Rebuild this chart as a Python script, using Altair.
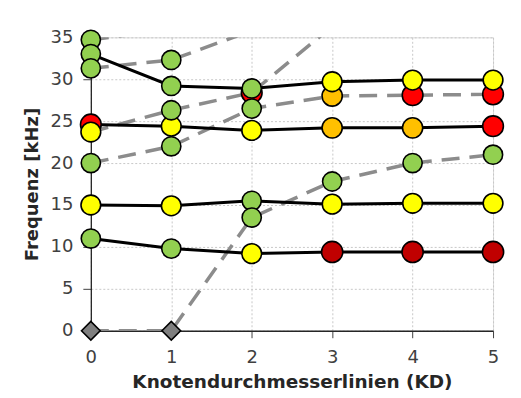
import altair as alt
import pandas as pd

# ---- data ----
KD = [0, 1, 2, 3, 4, 5]

# solid black mode lines
solid_A = [11.0, 9.8, 9.2, 9.4, 9.4, 9.4]
solid_B = [15.0, 14.9, 15.5, 15.1, 15.2, 15.2]
solid_C = [24.6, 24.4, 23.9, 24.2, 24.2, 24.4]
solid_D = [33.0, 29.2, 28.9, 29.7, 29.9, 29.9]

# dashed grey lines (x, y); parts above 35 are clipped
dash_E_x = [0, 1]
dash_E_y = [34.7, 36.0]
dash_F_x = [0, 1, 2]
dash_F_y = [31.3, 32.3, 35.8]
dash_G_x = [0, 1, 2, 3]
dash_G_y = [23.7, 26.3, 28.4, 36.3]
dash_H_x = [0, 1, 2, 3, 4, 5]
dash_H_y = [20.0, 22.0, 26.5, 28.0, 28.1, 28.2]
dash_I_x = [0, 1, 2, 3, 4, 5]
dash_I_y = [0.0, 0.0, 13.5, 17.8, 20.0, 21.0]

# markers
pt_x = [0, 0, 0, 0, 0, 0, 0, 0, 0,
        1, 1, 1, 1, 1, 1, 1, 1,
        2, 2, 2, 2, 2, 2, 2,
        3, 3, 3, 3, 3, 3,
        4, 4, 4, 4, 4, 4,
        5, 5, 5, 5, 5, 5]
pt_y = [34.7, 33.0, 31.3, 24.6, 23.7, 20.0, 15.0, 11.0, 0.0,
        32.3, 29.2, 26.3, 24.4, 22.0, 14.9, 9.8, 0.0,
        28.9, 28.4, 26.5, 23.9, 15.5, 13.5, 9.2,
        29.7, 28.0, 24.2, 17.8, 15.1, 9.4,
        29.9, 28.1, 24.2, 20.0, 15.2, 9.4,
        29.9, 28.2, 24.4, 21.0, 15.2, 9.4]
pt_kind = ["green", "green", "green", "red", "yellow", "green", "yellow", "green", "grey",
           "green", "green", "green", "yellow", "green", "yellow", "green", "grey",
           "green", "red", "green", "yellow", "green", "green", "yellow",
           "yellow", "orange", "orange", "green", "yellow", "darkred",
           "yellow", "red", "orange", "green", "yellow", "darkred",
           "yellow", "red", "red", "green", "yellow", "darkred"]

kinds = ["darkred", "red", "orange", "yellow", "green", "grey"]
kind_colors = ["#C00000", "#FF0000", "#FFC000", "#FFFF00", "#92D050", "#7F7F7F"]
kind_sizes = [450, 350, 310, 210, 170, 110]
kind_shapes = ["circle", "circle", "circle", "circle", "circle", "diamond"]
kind_rank = {k: i for i, k in enumerate(kinds)}

# ---- tables ----
solid_rows = []
for name, ys in [("A", solid_A), ("B", solid_B), ("C", solid_C), ("D", solid_D)]:
    for x, y in zip(KD, ys):
        solid_rows.append({"series": name, "x": x, "y": y})
solid_df = pd.DataFrame(solid_rows)

dash_rows = []
for name, xs, ys in [("E", dash_E_x, dash_E_y), ("F", dash_F_x, dash_F_y),
                     ("G", dash_G_x, dash_G_y), ("H", dash_H_x, dash_H_y),
                     ("I", dash_I_x, dash_I_y)]:
    for x, y in zip(xs, ys):
        dash_rows.append({"series": name, "x": x, "y": y})
dash_df = pd.DataFrame(dash_rows)

pts_df = pd.DataFrame({"x": pt_x, "y": pt_y, "kind": pt_kind})
pts_df["rank"] = pts_df["kind"].map(kind_rank)
pts_df = pts_df.sort_values("rank", kind="stable").reset_index(drop=True)

FONT = "DejaVu Sans"

x_enc = alt.X("x:Q",
              scale=alt.Scale(domain=[0, 5], nice=False, zero=False),
              axis=alt.Axis(values=KD, format="d", title="Knotendurchmesserlinien (KD)",
                            grid=True, gridDash=[2, 2], gridColor="#c8c8c8", gridWidth=1,
                            domainColor="#262626", domainWidth=1.3,
                            tickColor="#404040", tickSize=7, tickWidth=1,
                            labelFontSize=18, labelColor="#404040", labelPadding=11,
                            labelFlush=False,
                            titleFontSize=18.5, titleFontWeight="bold", titleColor="#262626",
                            titlePadding=6, labelFont=FONT, titleFont=FONT))
y_enc = alt.Y("y:Q",
              scale=alt.Scale(domain=[0, 35], nice=False, zero=True),
              axis=alt.Axis(values=[0, 5, 10, 15, 20, 25, 30, 35], title="Frequenz [kHz]",
                            grid=True, gridDash=[2, 2], gridColor="#c8c8c8", gridWidth=1,
                            domainColor="#262626", domainWidth=1.3,
                            tickColor="#404040", tickSize=8, tickWidth=1,
                            labelFontSize=18, labelColor="#404040", labelPadding=10,
                            labelFlush=False,
                            titleFontSize=18, titleFontWeight="bold", titleColor="#262626",
                            titlePadding=9, labelFont=FONT, titleFont=FONT))

dashed = alt.Chart(dash_df).mark_line(
    clip=True, color="#8C8C8C", strokeWidth=3.5, strokeDash=[18, 10]
).encode(x=x_enc, y=y_enc, detail="series:N", order="x:Q")

solid = alt.Chart(solid_df).mark_line(
    clip=True, color="#000000", strokeWidth=3
).encode(x="x:Q", y="y:Q", detail="series:N", order="x:Q")

points = alt.Chart(pts_df).mark_point(
    filled=True, stroke="#000000", strokeWidth=1.6, opacity=1
).encode(
    x="x:Q", y="y:Q",
    fill=alt.Fill("kind:N", scale=alt.Scale(domain=kinds, range=kind_colors), legend=None),
    size=alt.Size("kind:N", scale=alt.Scale(domain=kinds, range=kind_sizes), legend=None),
    shape=alt.Shape("kind:N", scale=alt.Scale(domain=kinds, range=kind_shapes), legend=None),
    order=alt.Order("rank:Q", sort="ascending"),
)

chart = alt.layer(dashed, solid, points).properties(
    width=403, height=294,
    autosize=alt.AutoSizeParams(type="none"),
    padding={"left": 83, "top": 29, "right": 20, "bottom": 62},
).configure_view(
    stroke="#8C8C8C", strokeWidth=1.5
).configure(background="white")

chart.save("out.html", embed_options={"renderer": "svg", "actions": False})
